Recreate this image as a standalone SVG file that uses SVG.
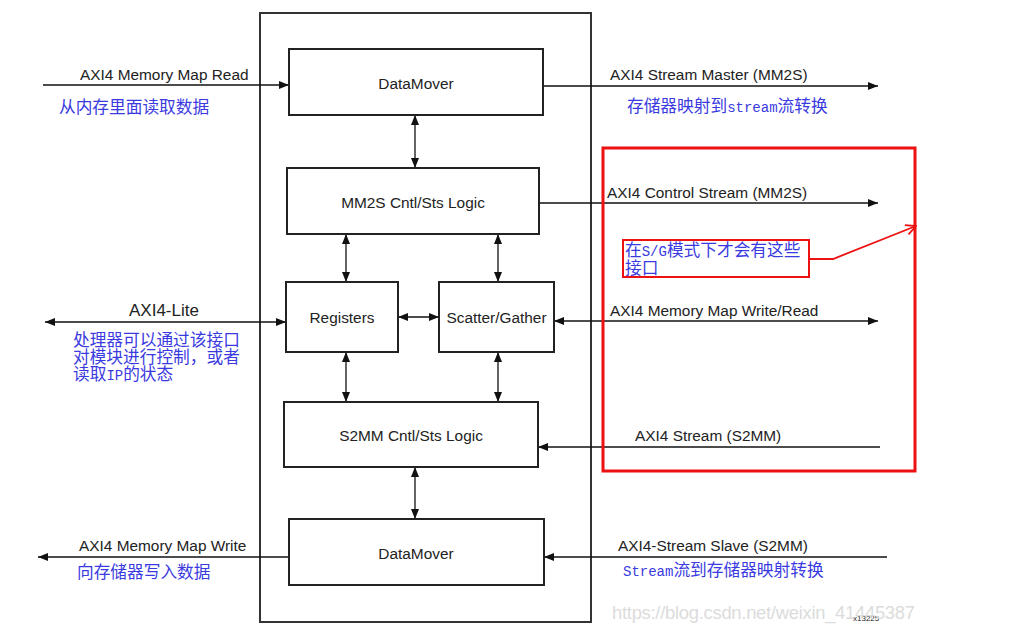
<svg xmlns="http://www.w3.org/2000/svg" width="1029" height="625" viewBox="0 0 1029 625">
<style>
.box{fill:#fff;stroke:#222;stroke-width:2}
.frame{fill:none;stroke:#333;stroke-width:2}
.lbl{font-family:"Liberation Sans",Arial,sans-serif;font-size:15.4px;fill:#222}
.big{font-size:17px}
.mid{text-anchor:middle}
.cn{font-family:"Noto Sans CJK SC",sans-serif;font-size:16.7px;fill:#3a3ae0}
.lat{font-family:"Liberation Mono","Noto Sans CJK SC",monospace;font-size:14px}
.wire{fill:none;stroke:#111;stroke-width:1.3}
.red{fill:none;stroke:#ee1111}
</style>
<defs>
<marker id="ah" viewBox="0 0 10 8" refX="10" refY="4" markerWidth="10" markerHeight="8" orient="auto-start-reverse" markerUnits="userSpaceOnUse"><path d="M0,0 L10,4 L0,8 z" fill="#111"/></marker>
<marker id="ra" viewBox="0 0 12 12" refX="11" refY="6" markerWidth="12" markerHeight="12" orient="auto" markerUnits="userSpaceOnUse"><path d="M1,1 L11,6 L1,11" fill="none" stroke="#ee1111" stroke-width="1.8"/></marker>
</defs>
<rect width="1029" height="625" fill="#fff"/>
<rect id="frame" class="frame" x="260" y="13" width="331" height="609"/>

<g id="connectors">
<path class="wire" d="M43,85 H289" marker-end="url(#ah)"/>
<path class="wire" d="M543,86 H878" marker-end="url(#ah)"/>
<path class="wire" d="M415,115 V168" marker-start="url(#ah)" marker-end="url(#ah)"/>
<path class="wire" d="M539,203 H878" marker-end="url(#ah)"/>
<path class="wire" d="M346,234 V282" marker-start="url(#ah)" marker-end="url(#ah)"/>
<path class="wire" d="M498,234 V282" marker-start="url(#ah)" marker-end="url(#ah)"/>
<path class="wire" d="M45,322 H286" marker-start="url(#ah)" marker-end="url(#ah)"/>
<path class="wire" d="M398,317 H439" marker-start="url(#ah)" marker-end="url(#ah)"/>
<path class="wire" d="M554,321 H878" marker-start="url(#ah)" marker-end="url(#ah)"/>
<path class="wire" d="M346,352 V402" marker-start="url(#ah)" marker-end="url(#ah)"/>
<path class="wire" d="M498,352 V402" marker-start="url(#ah)" marker-end="url(#ah)"/>
<path class="wire" d="M880,447 H538" marker-end="url(#ah)"/>
<path class="wire" d="M415,467 V519" marker-start="url(#ah)" marker-end="url(#ah)"/>
<path class="wire" d="M289,557 H38" marker-end="url(#ah)"/>
<path class="wire" d="M887,557 H544" marker-end="url(#ah)"/>
</g>

<g id="datamover-mm2s"><rect class="box" x="289" y="49" width="254" height="66"/><text class="lbl mid" x="416" y="89">DataMover</text></g>
<g id="mm2s-logic"><rect class="box" x="287" y="168" width="252" height="66"/><text class="lbl mid" x="413" y="208">MM2S Cntl/Sts Logic</text></g>
<g id="registers"><rect class="box" x="286" y="282" width="112" height="70"/><text class="lbl mid" x="342" y="323">Registers</text></g>
<g id="scatter-gather"><rect class="box" x="439" y="282" width="115" height="70"/><text class="lbl mid" x="496.5" y="323">Scatter/Gather</text></g>
<g id="s2mm-logic"><rect class="box" x="284" y="402" width="254" height="65"/><text class="lbl mid" x="411" y="441">S2MM Cntl/Sts Logic</text></g>
<g id="datamover-s2mm"><rect class="box" x="289" y="519" width="255" height="66"/><text class="lbl mid" x="416" y="559">DataMover</text></g>

<g id="labels">
<text class="lbl" x="80" y="80">AXI4 Memory Map Read</text>
<text class="cn" x="59" y="113">从内存里面读取数据</text>
<text class="lbl" x="610" y="80">AXI4 Stream Master (MM2S)</text>
<text class="cn" x="627" y="112">存储器映射到<tspan class="lat">stream</tspan>流转换</text>
<text class="lbl" x="607" y="198">AXI4 Control Stream (MM2S)</text>
<text class="lbl big" x="129" y="316">AXI4-Lite</text>
<text class="cn" x="73" y="346">处理器可以通过该接口</text>
<text class="cn" x="73" y="363">对模块进行控制，或者</text>
<text class="cn" x="73" y="380">读取<tspan class="lat">IP</tspan>的状态</text>
<text class="lbl" x="610" y="316">AXI4 Memory Map Write/Read</text>
<text class="lbl" x="635" y="441">AXI4 Stream (S2MM)</text>
<text class="lbl" x="79" y="551">AXI4 Memory Map Write</text>
<text class="cn" x="77" y="578">向存储器写入数据</text>
<text class="lbl" x="618" y="551">AXI4-Stream Slave (S2MM)</text>
<text class="cn" x="623" y="576"><tspan class="lat">Stream</tspan>流到存储器映射转换</text>
<text x="853" y="621" font-family="Liberation Sans, Arial, sans-serif" font-size="8" fill="#222">x13225</text>
<text x="612" y="619" font-family="Liberation Sans, Arial, sans-serif" font-size="18.4" fill="#dcdcdc" textLength="303">https://blog.csdn.net/weixin_41445387</text>
</g>

<g id="annotation">
<rect class="red" x="603" y="148" width="312" height="323" stroke-width="3"/>
<rect class="red" x="623" y="240" width="186" height="37" stroke-width="2"/>
<text class="cn" x="625" y="256">在<tspan class="lat">S/G</tspan>模式下才会有这些</text>
<text class="cn" x="625" y="274">接口</text>
<path class="red" d="M809,259 L833,259 L916,226" stroke-width="1.8" marker-end="url(#ra)"/>
</g>
</svg>
